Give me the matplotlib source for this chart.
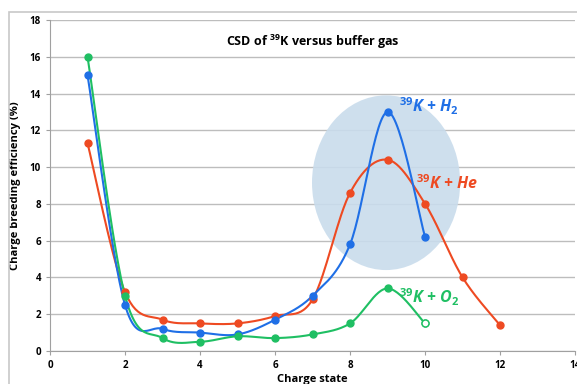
import numpy as np
import matplotlib
matplotlib.use('Agg')
from matplotlib import pyplot as plt
from matplotlib.patches import Ellipse, Rectangle

h2_x = [1, 2, 3, 4, 5, 6, 7, 8, 9, 10]
h2_y = [15.0, 2.5, 1.2, 1.0, 0.9, 1.7, 3.0, 5.8, 13.0, 6.2]
he_x = [1, 2, 3, 4, 5, 6, 7, 8, 9, 10, 11, 12]
he_y = [11.3, 3.2, 1.7, 1.5, 1.5, 1.9, 2.8, 8.6, 10.4, 8.0, 4.0, 1.4]
o2_x = [1, 2, 3, 4, 5, 6, 7, 8, 9, 10]
o2_y = [16.0, 3.0, 0.7, 0.5, 0.8, 0.7, 0.9, 1.5, 3.4, 1.5]

BLUE = '#1f6fe6'
RED = '#ee4a22'
GREEN = '#1fbf63'

plt.rcParams['font.family'] = ['Open Sans', 'DejaVu Sans']
plt.rcParams['mathtext.fontset'] = 'custom'
plt.rcParams['mathtext.rm'] = 'Open Sans:bold'
plt.rcParams['mathtext.bf'] = 'Open Sans:bold'
plt.rcParams['mathtext.it'] = 'Open Sans:italic:bold'


def smooth(xs, ys, n=30):
    # excel-like bezier smoothing through the points
    x = np.array(xs, float)
    y = np.array(ys, float)
    px, py = [], []
    for i in range(len(x) - 1):
        x0, y0 = (x[i - 1], y[i - 1]) if i > 0 else (x[i], y[i])
        x3, y3 = (x[i + 2], y[i + 2]) if i + 2 < len(x) else (x[i + 1], y[i + 1])
        c1x = x[i] + (x[i + 1] - x0) / 6
        c1y = y[i] + (y[i + 1] - y0) / 6
        c2x = x[i + 1] - (x3 - x[i]) / 6
        c2y = y[i + 1] - (y3 - y[i]) / 6
        t = np.linspace(0, 1, n)
        px.extend((1 - t)**3 * x[i] + 3 * (1 - t)**2 * t * c1x + 3 * (1 - t) * t**2 * c2x + t**3 * x[i + 1])
        py.extend((1 - t)**3 * y[i] + 3 * (1 - t)**2 * t * c1y + 3 * (1 - t) * t**2 * c2y + t**3 * y[i + 1])
    return px, py


fig = plt.figure(figsize=(5.77, 3.84), dpi=100)
fig.patches.append(Rectangle((0.016, -0.1), 1.1, 1.07, transform=fig.transFigure,
                             fill=False, edgecolor='#c8c8c8', lw=1.2))
ax = fig.add_axes([0.0867, 0.086, 0.91, 0.862])

ax.add_patch(Ellipse((8.96, 9.15), 3.95, 9.5, facecolor='#c9dcec', edgecolor='none', alpha=0.9, zorder=1))

for xs, ys, c in [(he_x, he_y, RED), (h2_x, h2_y, BLUE), (o2_x, o2_y, GREEN)]:
    sx, sy = smooth(xs, ys)
    ax.plot(sx, sy, color=c, lw=1.5, zorder=3)
    ax.plot(xs, ys, 'o', color=c, ms=5, zorder=4)
ax.plot([o2_x[-1]], [o2_y[-1]], 'o', color='white', mec=GREEN, ms=5, mew=1, zorder=5)

ax.set_xlim(0, 14)
ax.set_ylim(0, 18)
ax.set_xticks(range(0, 15, 2))
ax.set_yticks(range(0, 19, 2))
ax.yaxis.grid(True, color='#bdbdbd', lw=1)
ax.set_axisbelow(True)
for s in ['top', 'right']:
    ax.spines[s].set_visible(False)
for s in ['left', 'bottom']:
    ax.spines[s].set_color('#a0a0a0')
ax.tick_params(labelsize=7, length=3, color='#a0a0a0')
for lab in ax.get_xticklabels() + ax.get_yticklabels():
    lab.set_fontweight('bold')

ax.set_xlabel('Charge state', fontsize=8, fontweight='bold', labelpad=2)
ax.set_ylabel('Charge breeding efficiency (%)', fontsize=8, fontweight='bold', labelpad=6)

ax.text(7.0, 16.8, 'CSD of $^{39}$K versus buffer gas', ha='center', va='center',
        fontsize=9, fontweight='bold')

ax.text(9.3, 13.3, '$\\mathit{^{39}K}$ + H$_\\mathit{2}$', color=BLUE, fontsize=11.5,
        fontweight='bold', style='italic', va='center')
ax.text(9.75, 9.1, '$\\mathit{^{39}K}$ + He', color=RED, fontsize=11.5,
        fontweight='bold', style='italic', va='center')
ax.text(9.3, 2.9, '$\\mathit{^{39}K}$ + O$_\\mathit{2}$', color=GREEN, fontsize=11.5,
        fontweight='bold', style='italic', va='center')

plt.savefig('out.png')
